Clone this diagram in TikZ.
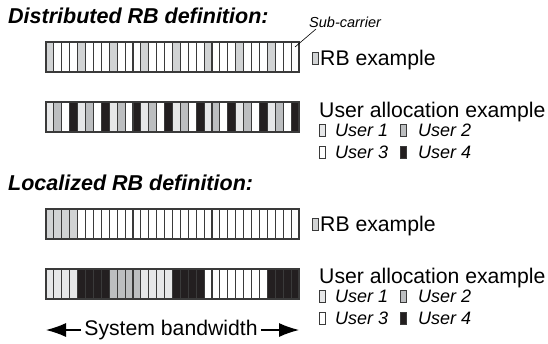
\documentclass[tikz,border=0pt]{standalone}
\usepackage{fontspec}
\setmainfont{Liberation Sans}
\usetikzlibrary{arrows.meta}

\definecolor{rbshade}{HTML}{D1D3D4}
\definecolor{uone}{HTML}{E6E7E8}
\definecolor{utwo}{HTML}{BCBEC0}
\definecolor{uthree}{HTML}{FFFFFF}
\definecolor{ufour}{HTML}{231F20}
\definecolor{edge}{HTML}{3A3A3A}

% one row of 32 sub-carriers; #1 = top edge, #2 = fill colours
\newcommand{\subcarrierrow}[2]{%
  \foreach \c [count=\i from 0] in {#2} {
    \filldraw[cellbox, fill=\c] ({46+\i*7.906},#1) rectangle ++(7.906,30);
  }%
}

\tikzset{
  cellbox/.style={draw=edge, line width=1.1pt},
  keybox/.style={draw=edge, line width=1pt},
  heading/.style={anchor=base west, inner sep=0pt, font=\bfseries\itshape\fontsize{21.5}{25}\selectfont},
  plain/.style={anchor=base west, font=\fontsize{21.2}{25}\selectfont, inner sep=0pt},
  userlbl/.style={anchor=base west, font=\itshape\fontsize{18}{21}\selectfont, inner sep=0pt},
  bwarrow/.style={line width=1.2pt, -{Latex[length=20pt,width=14pt]}},
}

\begin{document}
\begin{tikzpicture}[x=1pt,y=-1pt]
\useasboundingbox (0,0) rectangle (548,343);

% ---------------- distributed ----------------
\node[heading] (dtitle) at (8,23) {Distributed RB definition:};

\subcarrierrow{42}{rbshade,white,white,white,rbshade,white,white,white,
  rbshade,white,white,white,rbshade,white,white,white,
  rbshade,white,white,white,rbshade,white,white,white,
  rbshade,white,white,white,rbshade,white,white,white}

\node[userlbl, font=\itshape\fontsize{14.5}{17}\selectfont] (sclbl) at (309,27) {Sub-carrier};
\coordinate (sctip) at (295,47);
\coordinate (scend) at (316,29);
\draw[line width=0.6pt] (sctip) -- (scend);

\filldraw[keybox, fill=rbshade] (312,52) rectangle ++(6,12);
\node[plain] (drb) at (320,65) {RB example};

\subcarrierrow{102}{uone,utwo,uthree,ufour,uone,utwo,uthree,ufour,
  uone,utwo,uthree,ufour,uone,utwo,uthree,ufour,
  uone,utwo,uthree,ufour,uone,utwo,uthree,ufour,
  uone,utwo,uthree,ufour,uone,utwo,uthree,ufour}

\node[plain] (dalloc) at (319,117) {User allocation example};
\filldraw[keybox, fill=uone] (319,124) rectangle ++(6,12);
\node[userlbl] (du1) at (335,136) {User 1};
\filldraw[keybox, fill=utwo] (400,124) rectangle ++(6,12);
\node[userlbl] (du2) at (418,136) {User 2};
\filldraw[keybox, fill=uthree] (319,146) rectangle ++(6,12);
\node[userlbl] (du3) at (335,158) {User 3};
\filldraw[keybox, fill=ufour] (400,146) rectangle ++(6,12);
\node[userlbl] (du4) at (418,158) {User 4};

% ---------------- localized ----------------
\node[heading] (ltitle) at (8,190) {Localized RB definition:};

\subcarrierrow{209}{rbshade,rbshade,rbshade,rbshade,white,white,white,white,
  white,white,white,white,white,white,white,white,
  white,white,white,white,white,white,white,white,
  white,white,white,white,white,white,white,white}

\filldraw[keybox, fill=rbshade] (312,218) rectangle ++(6,12);
\node[plain] (lrb) at (320,231) {RB example};

\subcarrierrow{269}{uone,uone,uone,uone,ufour,ufour,ufour,ufour,
  utwo,utwo,utwo,utwo,uone,uone,uone,uone,
  ufour,ufour,ufour,ufour,uthree,uthree,uthree,uthree,
  uthree,uthree,uthree,uthree,ufour,ufour,ufour,ufour}

\node[plain] (lalloc) at (319,283) {User allocation example};
\filldraw[keybox, fill=uone] (319,290) rectangle ++(6,12);
\node[userlbl] (lu1) at (335,302) {User 1};
\filldraw[keybox, fill=utwo] (400,290) rectangle ++(6,12);
\node[userlbl] (lu2) at (418,302) {User 2};
\filldraw[keybox, fill=uthree] (319,312) rectangle ++(6,12);
\node[userlbl] (lu3) at (335,324) {User 3};
\filldraw[keybox, fill=ufour] (400,312) rectangle ++(6,12);
\node[userlbl] (lu4) at (418,324) {User 4};

% ---------------- bandwidth arrow ----------------
\node[plain, anchor=center] (sbw) at (171,330) {System bandwidth};
\coordinate (bwleft) at (46,330);
\coordinate (bwright) at (299,330);
\draw[bwarrow] ([xshift=-3pt]sbw.west) -- (bwleft);
\draw[bwarrow] ([xshift=3pt]sbw.east) -- (bwright);

\end{tikzpicture}
\end{document}
